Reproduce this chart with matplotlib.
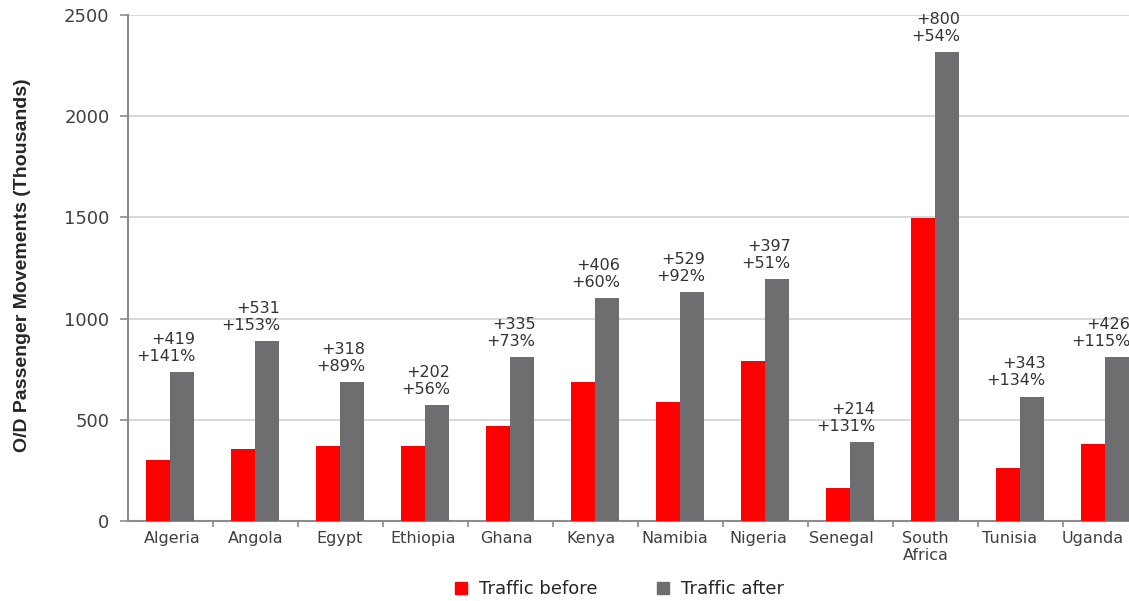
import matplotlib
matplotlib.use("Agg")
import matplotlib.pyplot as plt
from matplotlib.lines import Line2D
from matplotlib.transforms import ScaledTranslation
import numpy as np

countries = ["Algeria", "Angola", "Egypt", "Ethiopia", "Ghana", "Kenya", "Namibia",
             "Nigeria", "Senegal", "South\nAfrica", "Tunisia", "Uganda"]
traffic_before = [300, 355, 370, 370, 470, 685, 590, 790, 165, 1495, 260, 380]
traffic_after = [735, 890, 685, 573, 810, 1100, 1130, 1195, 390, 2315, 615, 810]
abs_change = ["+419", "+531", "+318", "+202", "+335", "+406", "+529", "+397", "+214", "+800", "+343", "+426"]
pct_change = ["+141%", "+153%", "+89%", "+56%", "+73%", "+60%", "+92%", "+51%", "+131%", "+54%", "+134%", "+115%"]
yticks = [0, 500, 1000, 1500, 2000, 2500]

RED = "#ff0000"
GREY = "#6e6e70"
TXT = "#404040"

plt.rcParams["font.family"] = ["DejaVu Sans"]

fig = plt.figure(figsize=(11.29, 6.01), dpi=100)
L, R, B, T = 127.5, 1147.5, 521, 15
W, H = 1129, 601
ax = fig.add_axes([L / W, 1 - B / H, (R - L) / W, (B - T) / H])

x = np.arange(len(countries))
bw = 0.285
ax.bar(x - bw / 2, traffic_before, width=bw, color=RED, zorder=3)
ax.bar(x + bw / 2, traffic_after, width=bw, color=GREY, zorder=3)

for i in range(len(countries)):
    ax.annotate(abs_change[i] + "\n" + pct_change[i],
                xy=(x[i] + bw, traffic_after[i]), xytext=(1, 6),
                textcoords="offset points", ha="right", va="bottom",
                multialignment="right", fontsize=11.5, color="#333333",
                linespacing=1.15, annotation_clip=False, clip_on=False)

ax.set_xlim(-0.5, len(countries) - 0.5)
ax.set_ylim(0, 2500)
ax.set_yticks(yticks)
ax.set_yticklabels([str(v) for v in yticks], fontsize=13, color=TXT)
ax.set_xticks(x)
ax.set_xticklabels(countries, fontsize=11.5, color=TXT)
ax.set_xticks(np.arange(0.5, len(countries) - 0.5, 1), minor=True)
ax.tick_params(axis="x", which="major", length=0, pad=7)
ax.tick_params(axis="x", which="minor", length=4, width=1.2, color="#8c8c8c", direction="out")
ax.tick_params(axis="y", which="major", length=6, width=1.2, color="#8c8c8c", pad=7)

# the reference's category labels sit slightly left of the bar groups towards the right
n = len(countries)
for i, lab in enumerate(ax.get_xticklabels()):
    dx_px = 2 - i * 14 / (n - 1)
    lab.set_transform(lab.get_transform() + ScaledTranslation(dx_px / 100, 0, fig.dpi_scale_trans))

ax.grid(axis="y", color="#d9d9d9", linewidth=1.5, zorder=0)
ax.set_axisbelow(True)
for s in ["top", "right"]:
    ax.spines[s].set_visible(False)
for s in ["left", "bottom"]:
    ax.spines[s].set_color("#8c8c8c")
    ax.spines[s].set_linewidth(1.5)

fig.text(23 / W, 1 - 265 / H, "O/D Passenger Movements (Thousands)", rotation=90,
         ha="center", va="center", fontsize=14, fontweight="bold",
         family=["Liberation Sans", "DejaVu Sans"], color="#262626")

handles = [Line2D([], [], marker="s", linestyle="none", markersize=8, color=RED),
           Line2D([], [], marker="s", linestyle="none", markersize=8, color=GREY)]
fig.legend(handles, ["Traffic before", "Traffic after"], loc="center",
           bbox_to_anchor=(619 / W, 1 - 589 / H), ncol=2, frameon=False,
           fontsize=13, handlelength=0.8, handletextpad=0.6, columnspacing=3.2,
           labelcolor="#262626")

fig.savefig("out.png", dpi=100)
